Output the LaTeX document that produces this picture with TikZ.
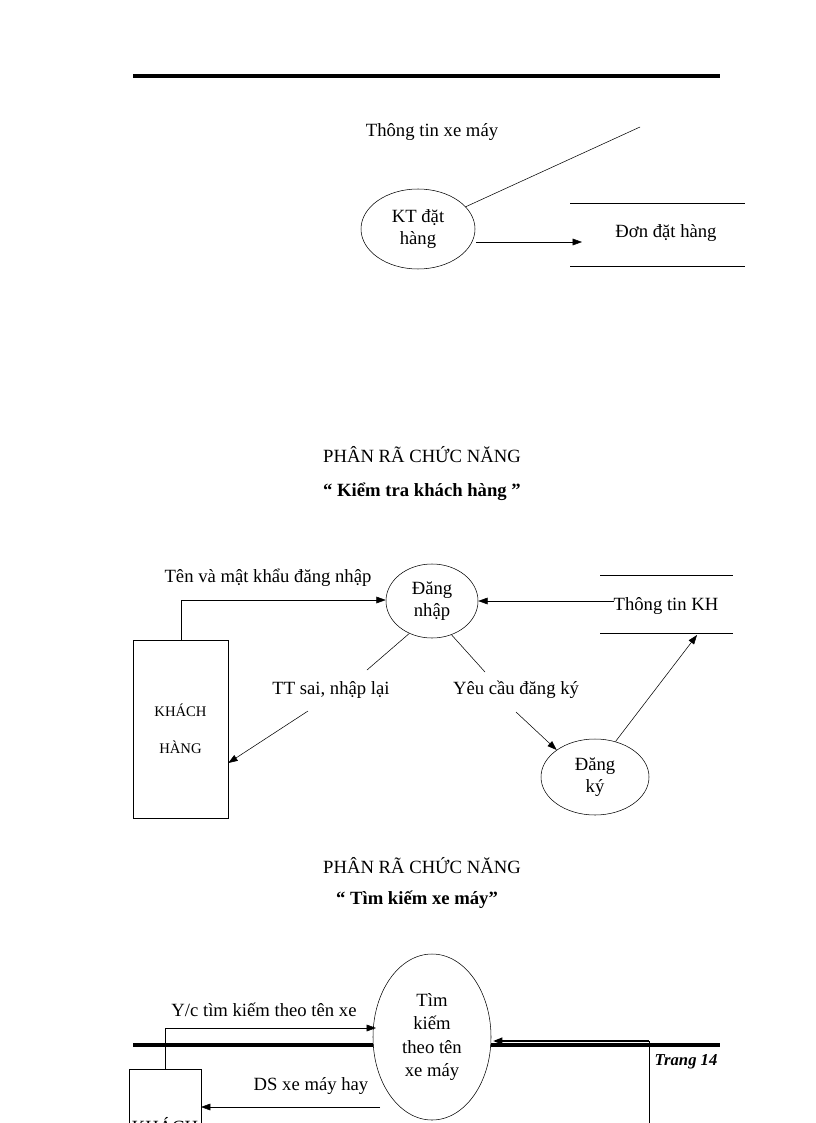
\documentclass[tikz,border=0pt]{standalone}
\usepackage{fontspec}
\setmainfont{Liberation Serif}
\usetikzlibrary{arrows.meta,shapes.geometric}
\begin{document}
\begin{tikzpicture}[x=0.75pt,y=-0.75pt,
  every node/.style={font=\fontsize{14}{17}\selectfont},
  proc/.style={draw,ellipse,inner sep=0pt,align=center},
  arr/.style={-{Triangle[length=7pt,width=5pt]}},
  rule/.style={line width=3pt}]
\useasboundingbox (0,0) rectangle (816,1123);
\begin{scope}
\clip (0,0) rectangle (816,1123);
\draw[rule] (133,76) -- (720,76);
% top
\node (t1) at (432,132) {Thông tin xe máy};
\node[proc,minimum width=114pt*0.75,minimum height=80pt*0.75] (kt) at (418,229) {KT đặt\\hàng};
\coordinate (tl) at (640,127);
\draw (kt.25) -- (tl);
\draw (570,203) -- (745,203); \draw (570,266) -- (745,266);
\node (don) at (666,233) {Đơn đặt hàng};
\coordinate (dona) at (582,242);
\draw[arr] (476,242) -- (dona);
% middle
\node (h1) at (422,455) {PHÂN RÃ CHỨC NĂNG};
\node[font=\fontsize{14}{17}\selectfont\bfseries] (h2) at (422,492) {“ Kiểm tra khách hàng ”};
\node[proc,minimum width=92pt*0.75,minimum height=74pt*0.75] (dn) at (432,601) {Đăng\\nhập};
\node[draw,minimum width=95pt*0.75,minimum height=178pt*0.75,align=center,font=\fontsize{11}{28}\selectfont] (kh) at (180.5,729) {KHÁCH\\HÀNG};
\node (l1) at (268,578) {Tên và mật khẩu đăng nhập};
\draw[arr] (181,640) |- (dn.west |- 0,600);
\draw (600,575) -- (733,575); \draw (600,633) -- (733,633);
\node (tkh) at (666,606) {Thông tin KH};
\draw[arr] (614,601) -- (dn.east |- 0,601);
\node (l2) at (331,690) {TT sai, nhập lại};
\draw (dn.-125) -- (367,670);
\draw[arr] (308,711) -- (kh.east |- 0,763);
\node (l3) at (516,690) {Yêu cầu đăng ký};
\node[proc,minimum width=108pt*0.75,minimum height=76pt*0.75] (dk) at (595,777) {Đăng\\ký};
\draw (dn.-60) -- (485,672);
\draw[arr] (516,712) -- (dk.north west);
\draw[arr] (dk.60) -- (697,635);
% bottom
\node (h3) at (422,866) {PHÂN RÃ CHỨC NĂNG};
\node[font=\fontsize{14}{17}\selectfont\bfseries] (h4) at (417,900) {“ Tìm  kiếm xe máy”};
\draw[rule] (133,1045) -- (720,1045);
\node[proc,fill=white,minimum width=118pt*0.75,minimum height=166pt*0.75,font=\fontsize{14}{17.5}\selectfont] (tk) at (432,1037) {Tìm\\kiếm\\theo tên\\xe máy};
\node[draw,minimum width=72pt*0.75,minimum height=100pt*0.75,anchor=north west] (kh2) at (129,1069) {};
\node (k2t) at (165,1126) {KHÁCH};
\node (l4) at (264,1010) {Y/c tìm kiếm theo tên xe};
\draw[arr] (165,1069) |- (376,1028);
\node (l5) at (311,1086) {DS xe máy hay};
\draw[arr] (380,1107) -- (201,1107);
\draw[arr,line width=1.5pt] (649,1041) -- (493,1041);
\draw (649,1041) -- (649,1123);
\node[font=\fontsize{12.5}{15}\selectfont\bfseries\itshape] (tr) at (686,1062) {Trang 14};
\end{scope}
\end{tikzpicture}
\end{document}
